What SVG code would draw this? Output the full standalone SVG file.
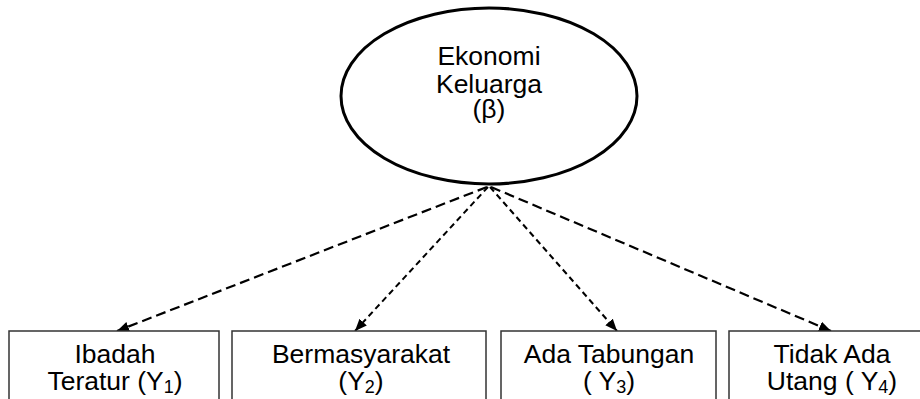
<svg xmlns="http://www.w3.org/2000/svg" width="920" height="399" viewBox="0 0 920 399">
<defs>
<style>
text{font-family:"Liberation Sans",Arial,sans-serif;font-size:26.5px;fill:#000;text-anchor:middle}
.sub{font-size:18px}
.box{fill:#fff;stroke:#333;stroke-width:1.5}
.long{fill:none;stroke:#000;stroke-width:2.2;stroke-dasharray:10 5}
.short{fill:none;stroke:#000;stroke-width:2;stroke-dasharray:6 4}
</style>
<marker id="ah" markerWidth="12" markerHeight="10" refX="12" refY="5" orient="auto" markerUnits="userSpaceOnUse">
<path d="M0,0 L12,5 L0,10 Z" fill="#000"/>
</marker>
</defs>
<rect width="920" height="399" fill="#fff"/>
<g id="connectors">
<line class="long" x1="487" y1="187" x2="117" y2="331" marker-end="url(#ah)"/>
<line class="short" x1="488" y1="187" x2="355" y2="331" marker-end="url(#ah)"/>
<line class="short" x1="490" y1="187" x2="617" y2="331" marker-end="url(#ah)"/>
<line class="long" x1="491" y1="187" x2="831" y2="331" marker-end="url(#ah)"/>
</g>
<g id="ekonomi">
<ellipse cx="489" cy="96" rx="148" ry="88" fill="#fff" stroke="#000" stroke-width="3"/>
<text x="489" y="65">Ekonomi</text>
<text x="489" y="93">Keluarga</text>
<text x="489" y="118">(β)</text>
</g>
<g id="y1">
<rect class="box" x="9" y="331" width="210" height="80"/>
<text x="115" y="363">Ibadah</text>
<text x="115" y="390">Teratur (Y<tspan class="sub" dy="3">1</tspan><tspan dy="-3">)</tspan></text>
</g>
<g id="y2">
<rect class="box" x="232" y="331" width="254" height="80"/>
<text x="361" y="363">Bermasyarakat</text>
<text x="361" y="390">(Y<tspan class="sub" dy="3">2</tspan><tspan dy="-3">)</tspan></text>
</g>
<g id="y3">
<rect class="box" x="501" y="331" width="215" height="80"/>
<text x="609" y="363">Ada Tabungan</text>
<text x="609" y="390">( Y<tspan class="sub" dy="3">3</tspan><tspan dy="-3">)</tspan></text>
</g>
<g id="y4">
<rect class="box" x="729" y="331" width="210" height="80"/>
<text x="832" y="363">Tidak Ada</text>
<text x="832" y="390">Utang ( Y<tspan class="sub" dy="3">4</tspan><tspan dy="-3">)</tspan></text>
</g>
</svg>
